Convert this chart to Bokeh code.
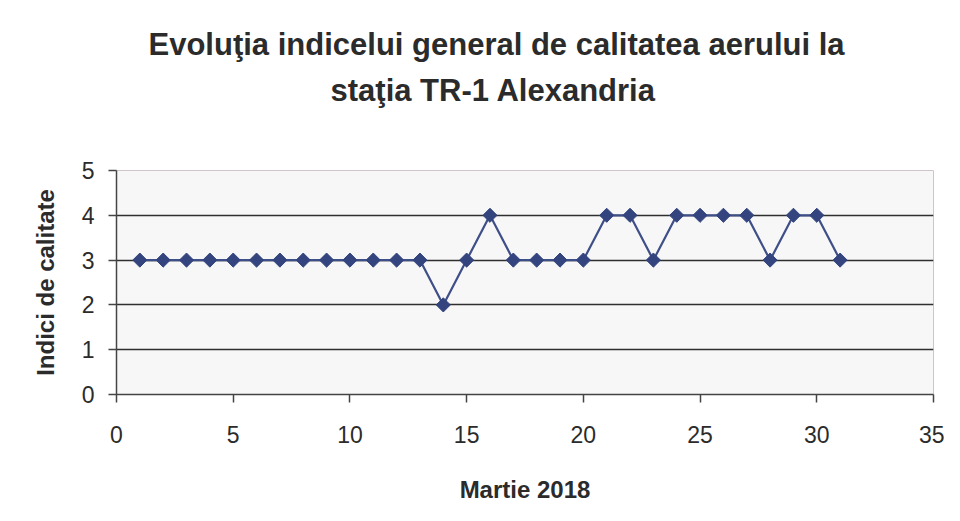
import math
from bokeh.plotting import figure
from bokeh.models import Range1d, Title, FixedTicker
from bokeh.embed import file_html
from bokeh.resources import INLINE

days = list(range(1, 32))
indici = [3, 3, 3, 3, 3, 3, 3, 3, 3, 3, 3, 3, 3, 2, 3, 4, 3, 3, 3, 3,
          4, 4, 3, 4, 4, 4, 4, 3, 4, 4, 3]
x_ticks = [0, 5, 10, 15, 20, 25, 30, 35]
y_ticks = [0, 1, 2, 3, 4, 5]
title_lines = ["Evoluţia indicelui general de calitatea aerului la", "staţia TR-1 Alexandria"]

FONT = "Liberation Sans"
INK = "#2b2b2b"
NAVY = "#33447e"

p = figure(width=944, height=505, output_backend="svg", toolbar_location=None,
           x_range=Range1d(0, 35), y_range=Range1d(0, 5),
           min_border_left=116, min_border_right=11, min_border_top=170, min_border_bottom=110)
p.background_fill_color = "#f7f7f7"
p.border_fill_color = "white"
p.outline_line_color = "#cfc4cc"
p.outline_line_width = 1

p.xgrid.grid_line_color = None
p.ygrid.grid_line_color = "#2f2f2f"
p.ygrid.grid_line_width = 1.5
p.ygrid.ticker = FixedTicker(ticks=y_ticks)

p.xaxis.ticker = FixedTicker(ticks=x_ticks)
p.yaxis.ticker = FixedTicker(ticks=y_ticks)
for ax in (p.xaxis[0], p.yaxis[0]):
    ax.axis_line_color = "#444444"
    ax.axis_line_width = 1.5
    ax.major_tick_line_color = "#444444"
    ax.major_tick_line_width = 1.5
    ax.major_tick_in = 0
    ax.major_tick_out = 8
    ax.minor_tick_line_color = None
    ax.major_label_text_font = FONT
    ax.major_label_text_font_size = "23px"
    ax.major_label_text_color = INK
    ax.axis_label_text_font = FONT
    ax.axis_label_text_font_style = "bold"
    ax.axis_label_text_font_size = "24px"
    ax.axis_label_text_color = INK

p.xaxis.axis_label = "Martie 2018"
p.xaxis.major_label_standoff = 23
p.xaxis.axis_label_standoff = 30
p.yaxis.axis_label = "Indici de calitate"
p.yaxis.major_label_standoff = 14
p.yaxis.axis_label_standoff = 20

p.line(days, indici, line_color="#3f4f88", line_width=2.2)
p.scatter(days, indici, marker="square", angle=math.pi / 4, size=10,
          fill_color=NAVY, line_color=NAVY)

title_style = dict(text_font=FONT, text_font_style="bold", text_font_size="31px",
                   text_color=INK, align="left")
p.title.text = title_lines[0]
p.title.align = "left"
p.title.offset = 32
p.title.text_font = FONT
p.title.text_font_style = "bold"
p.title.text_font_size = "31px"
p.title.text_color = INK
p.title.standoff = 9
# spacer first (closest to the frame), then the second title line
p.add_layout(Title(text=" ", offset=0, standoff=21, **title_style), "above")
p.add_layout(Title(text=title_lines[1], offset=214, standoff=9, **title_style), "above")

open("out.html", "w").write(file_html(p, INLINE))
